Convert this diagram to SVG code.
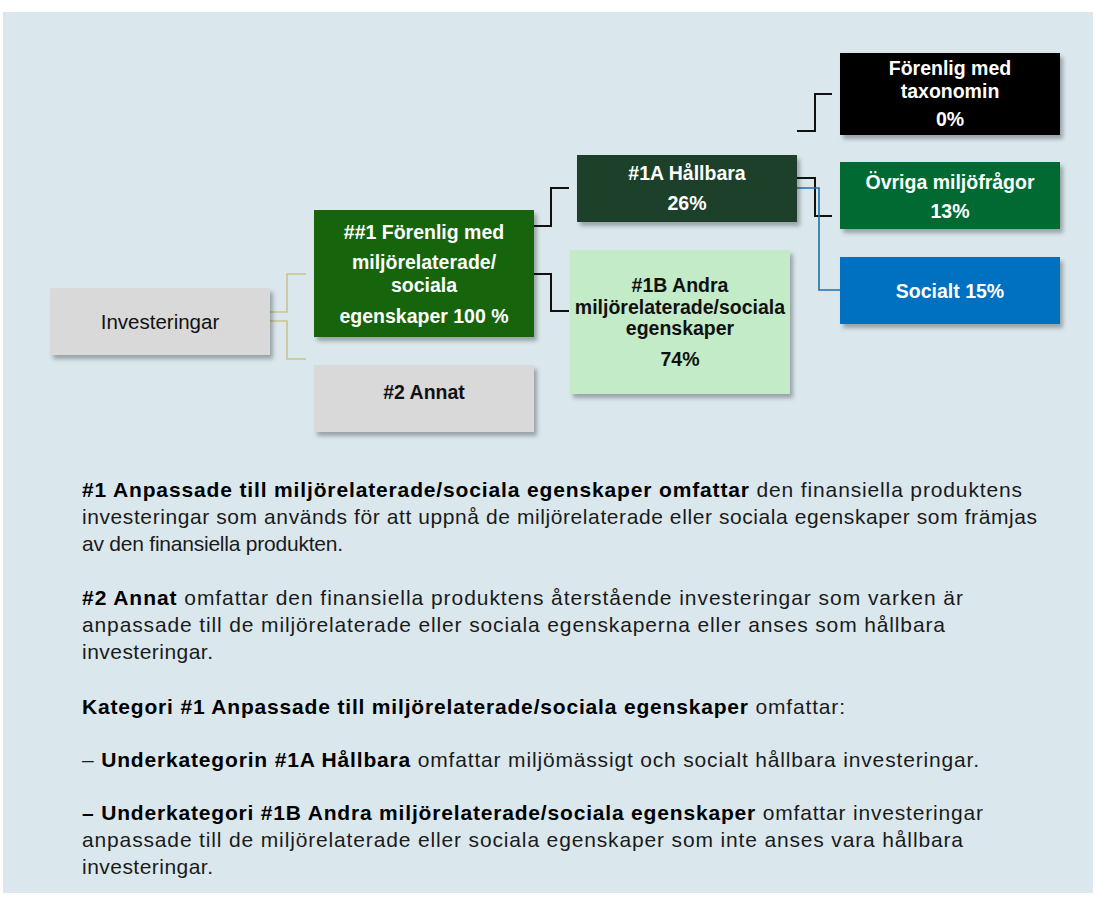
<svg xmlns="http://www.w3.org/2000/svg" width="1095" height="907" viewBox="0 0 1095 907">
<defs>
<filter id="sh" x="-10%" y="-10%" width="130%" height="140%">
<feDropShadow dx="3" dy="4" stdDeviation="2" flood-color="#000" flood-opacity="0.3"/>
</filter>
<style>
.bt{font-family:"Liberation Sans",Arial,sans-serif;font-size:19.5px;font-weight:bold;text-anchor:middle}
.w{fill:#fff}
.k{fill:#111}
.body{font-family:"Liberation Sans",Arial,sans-serif;font-size:21px;fill:#1a1a1a}
.b{font-weight:bold;fill:#000}
.cb{fill:none;stroke:#111;stroke-width:2}
.co{fill:none;stroke:#C9C38A;stroke-width:1.6}
.cl{fill:none;stroke:#1F6FA8;stroke-width:1.6}
</style>
</defs>
<rect x="0" y="0" width="1095" height="907" fill="#fff"/>
<rect x="3" y="12" width="1090" height="881" fill="#DAE8EE"/>

<g id="connectors">
<polyline class="co" points="270,312 287,312 287,274 306,274"/>
<polyline class="co" points="270,321 287,321 287,359 306,359"/>
<polyline class="cb" points="534,226 551,226 551,188 569,188"/>
<polyline class="cb" points="534,274 551,274 551,311 569,311"/>
<polyline class="cb" points="797,131 815,131 815,94 832,94"/>
<polyline class="cb" points="797,178 815,178 815,216 832,216"/>
<polyline class="cl" points="797,188 819,188 819,290 840,290"/>
</g>

<g id="investeringar">
<rect x="50" y="288" width="220" height="67" fill="#D9D9D9" filter="url(#sh)"/>
<text class="bt k" x="160" y="329" style="font-weight:normal;font-size:20.5px">Investeringar</text>
</g>
<g id="n1">
<rect x="314" y="210" width="220" height="127" fill="#17650B" filter="url(#sh)"/>
<text class="bt w" x="424" y="239">##1 Förenlig med</text>
<text class="bt w" x="424" y="269">miljörelaterade/</text>
<text class="bt w" x="424" y="292">sociala</text>
<text class="bt w" x="424" y="323">egenskaper 100 %</text>
</g>
<g id="n2">
<rect x="314" y="365" width="220" height="67" fill="#D9D9D9" filter="url(#sh)"/>
<text class="bt k" x="424" y="399">#2 Annat</text>
</g>
<g id="n1a">
<rect x="577" y="155" width="220" height="67" fill="#1E402C" filter="url(#sh)"/>
<text class="bt w" x="687" y="180">#1A Hållbara</text>
<text class="bt w" x="687" y="210">26%</text>
</g>
<g id="n1b">
<rect x="570" y="250" width="220" height="144" fill="#C3EBC8" filter="url(#sh)"/>
<text class="bt k" x="680" y="292">#1B Andra</text>
<text class="bt k" x="680" y="314">miljörelaterade/sociala</text>
<text class="bt k" x="680" y="335">egenskaper</text>
<text class="bt k" x="680" y="366">74%</text>
</g>
<g id="taxonomi">
<rect x="840" y="53" width="220" height="82" fill="#000" filter="url(#sh)"/>
<text class="bt w" x="950" y="75">Förenlig med</text>
<text class="bt w" x="950" y="98">taxonomin</text>
<text class="bt w" x="950" y="126">0%</text>
</g>
<g id="ovriga">
<rect x="840" y="162" width="220" height="67" fill="#006B30" filter="url(#sh)"/>
<text class="bt w" x="950" y="189">Övriga miljöfrågor</text>
<text class="bt w" x="950" y="218">13%</text>
</g>
<g id="socialt">
<rect x="840" y="257" width="220" height="67" fill="#0070C0" filter="url(#sh)"/>
<text class="bt w" x="950" y="298">Socialt 15%</text>
</g>

<g id="text">
<text class="body" x="82" y="497" textLength="940" lengthAdjust="spacing"><tspan class="b">#1 Anpassade till miljörelaterade/sociala egenskaper omfattar</tspan> den finansiella produktens</text>
<text class="body" x="82" y="524" textLength="955" lengthAdjust="spacing">investeringar som används för att uppnå de miljörelaterade eller sociala egenskaper som främjas</text>
<text class="body" x="82" y="551" textLength="261" lengthAdjust="spacing">av den finansiella produkten.</text>
<text class="body" x="82" y="605" textLength="881" lengthAdjust="spacing"><tspan class="b">#2 Annat</tspan> omfattar den finansiella produktens återstående investeringar som varken är</text>
<text class="body" x="82" y="632" textLength="863" lengthAdjust="spacing">anpassade till de miljörelaterade eller sociala egenskaperna eller anses som hållbara</text>
<text class="body" x="82" y="659" textLength="131" lengthAdjust="spacing">investeringar.</text>
<text class="body" x="82" y="714" textLength="763" lengthAdjust="spacing"><tspan class="b">Kategori #1 Anpassade till miljörelaterade/sociala egenskaper</tspan> omfattar:</text>
<text class="body" x="82" y="767" textLength="897" lengthAdjust="spacing">– <tspan class="b">Underkategorin #1A Hållbara</tspan> omfattar miljömässigt och socialt hållbara investeringar.</text>
<text class="body" x="82" y="820" textLength="901" lengthAdjust="spacing"><tspan class="b">– Underkategori #1B Andra miljörelaterade/sociala egenskaper</tspan> omfattar investeringar</text>
<text class="body" x="82" y="847" textLength="881" lengthAdjust="spacing">anpassade till de miljörelaterade eller sociala egenskaper som inte anses vara hållbara</text>
<text class="body" x="82" y="874" textLength="131" lengthAdjust="spacing">investeringar.</text>
</g>
</svg>
